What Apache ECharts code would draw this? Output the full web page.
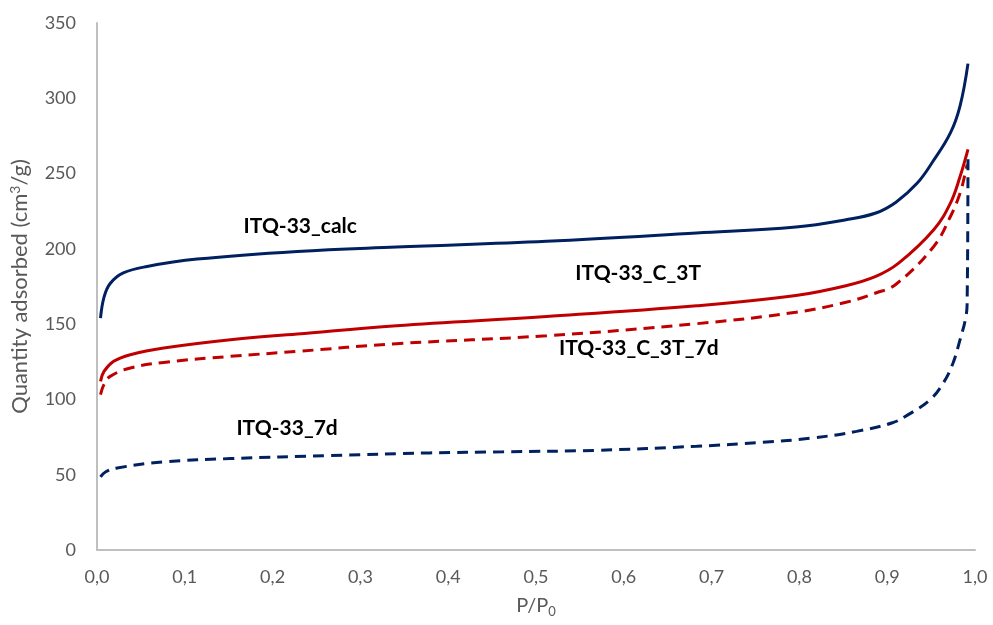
<!DOCTYPE html>
<html>
<head>
<meta charset="utf-8">
<script src="https://cdn.jsdelivr.net/npm/echarts@6/dist/echarts.min.js"></script>
<style>
  html, body { margin: 0; padding: 0; background: #fff; }
  #chart { width: 993px; height: 625px; }
</style>
</head>
<body>
<div id="chart"></div>
<script>
// Nitrogen adsorption isotherms, quantity adsorbed vs relative pressure
const calcP = [0.004, 0.008, 0.015, 0.03, 0.057, 0.114, 0.228, 0.341, 0.512, 0.683, 0.796, 0.853, 0.887, 0.91, 0.934, 0.952, 0.972, 0.983, 0.992];
const calcV = [154, 168, 177, 184, 188.3, 193.2, 198.3, 201.2, 205, 210.5, 214.5, 219.3, 223.8, 231, 243.5, 258, 277, 295, 323];

const c3tP = [0.004, 0.008, 0.019, 0.038, 0.076, 0.152, 0.228, 0.341, 0.512, 0.683, 0.796, 0.853, 0.887, 0.913, 0.953, 0.972, 0.983, 0.9906, 0.992];
const c3tV = [112, 118.6, 125.3, 129.7, 134.2, 139.7, 143.5, 149, 155.1, 162.2, 169, 175.5, 181.7, 190.5, 212.7, 230.4, 248, 263, 266];

const c3t7dP = [0.004, 0.008, 0.015, 0.038, 0.076, 0.152, 0.228, 0.341, 0.512, 0.683, 0.796, 0.853, 0.887, 0.91, 0.953, 0.972, 0.983, 0.988, 0.991];
const c3t7dV = [103.2, 110, 115.3, 120.9, 124.6, 128.6, 131.9, 137, 142.3, 150.3, 157.9, 164.5, 170.7, 176.5, 201.6, 221.5, 237, 248, 256];

const d7P = [0.004, 0.01, 0.023, 0.076, 0.152, 0.265, 0.379, 0.463, 0.569, 0.683, 0.758, 0.815, 0.865, 0.906, 0.924, 0.949, 0.964, 0.975, 0.983, 0.989, 0.991, 0.992];
const d7V = [48.5, 52, 54.5, 58.5, 60.7, 62.7, 64.5, 65.2, 66.2, 68.9, 71.5, 74.4, 78.8, 84.5, 89.9, 99.9, 111, 124.2, 139.7, 153, 163, 262];

const seriesNames = ['ITQ-33_calc', 'ITQ-33_C_3T', 'ITQ-33_C_3T_7d', 'ITQ-33_7d'];
// label anchor for each series name, in data units [P/P0, quantity]
const labelAt = [[0.2315, 214.7], [0.6164, 183.9], [0.617, 134.2], [0.2165, 81.1]];

const xTicks = { min: 0, max: 1, step: 0.1 };
const yTicks = { min: 0, max: 350, step: 50 };

const NAVY = '#002060';
const RED = '#C00000';
const AXIS_GRAY = '#595959';

function pairs(xs, ys) { return xs.map((x, i) => [x, ys[i]]); }

function makeSeries(idx, xs, ys, color, dashed) {
  return {
    name: seriesNames[idx],
    type: 'line',
    data: pairs(xs, ys),
    showSymbol: false,
    smooth: 0.4,
    lineStyle: {
      color: color,
      width: 3,
      type: dashed ? [11, 7] : 'solid',
      cap: 'butt'
    },
    markPoint: {
      symbol: 'circle',
      symbolSize: 0,
      silent: true,
      data: [{ coord: labelAt[idx] }],
      label: {
        show: true,
        position: 'inside',
        formatter: seriesNames[idx],
        color: '#000',
        fontFamily: 'Lato',
        fontWeight: 'bold',
        fontSize: 21
      }
    }
  };
}

const chart = echarts.init(document.getElementById('chart'), null, { renderer: 'canvas' });
chart.setOption({
  animation: false,
  backgroundColor: '#fff',
  grid: { left: 96, right: 18, top: 23, bottom: 75, containLabel: false },
  xAxis: {
    type: 'value',
    min: xTicks.min, max: xTicks.max, interval: xTicks.step,
    name: '{n|P/P}{s|0}',
    nameLocation: 'middle',
    nameGap: 43,
    nameTextStyle: {
      rich: {
        n: { fontFamily: 'Lato', fontSize: 20, color: AXIS_GRAY },
        s: { fontFamily: 'Lato', fontSize: 13, color: AXIS_GRAY, verticalAlign: 'bottom', padding: [12, 0, 0, 0] }
      }
    },
    axisLine: { show: true, lineStyle: { color: '#BFBFBF', width: 2 } },
    axisTick: { show: false },
    splitLine: { show: false },
    axisLabel: {
      margin: 18,
      fontFamily: 'Lato', fontSize: 18, color: AXIS_GRAY,
      formatter: v => v.toFixed(1).replace('.', ',')
    }
  },
  yAxis: {
    type: 'value',
    min: yTicks.min, max: yTicks.max, interval: yTicks.step,
    name: '{n|Quantity adsorbed (cm}{s|3}{n|/g)}',
    nameLocation: 'middle',
    nameGap: 66,
    nameRotate: 90,
    nameTextStyle: {
      rich: {
        n: { fontFamily: 'Lato', fontSize: 22, color: AXIS_GRAY },
        s: { fontFamily: 'Lato', fontSize: 14, color: AXIS_GRAY, verticalAlign: 'top', padding: [0, 0, 9, 0] }
      }
    },
    axisLine: { show: true, lineStyle: { color: '#BFBFBF', width: 2 } },
    axisTick: { show: false },
    splitLine: { show: false },
    axisLabel: { margin: 21, fontFamily: 'Lato', fontSize: 18, color: AXIS_GRAY }
  },
  series: [
    makeSeries(0, calcP, calcV, NAVY, false),
    makeSeries(1, c3tP, c3tV, RED, false),
    makeSeries(2, c3t7dP, c3t7dV, RED, true),
    makeSeries(3, d7P, d7V, NAVY, true)
  ]
});
</script>
</body>
</html>
